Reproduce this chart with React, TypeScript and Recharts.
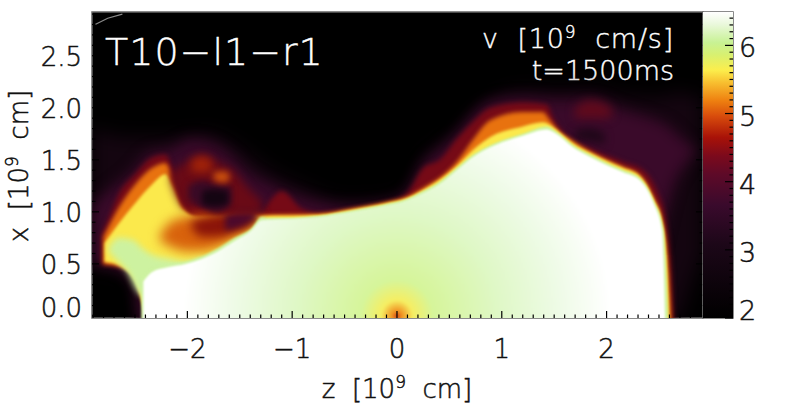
import { Area, Bar, ComposedChart, Line, XAxis, YAxis } from "recharts";

// contour bands of v, z and x in 10^9 cm
const farZ = [-2.91, -2.6, -2.5, -2.44, -2.2, -1.8, -1.5, -1.2, -0.9, -0.5, -0.1, 0.1, 0.25, 0.57, 0.89, 1.2, 1.52, 1.84, 2.16, 2.5, 2.7, 2.8, 2.91];
const farTop = [1.8, 1.72, 1.72, 1.72, 1.72, 1.76, 1.62, 1.4, 1.25, 1.1, 1.12, 1.2, 1.5, 1.75, 2.06, 2.17, 2.17, 2.18, 2.12, 2.1, 2.15, 2.12, 2.1];
const farLow = [0.46, 0.42, 0.3, -0.1, -0.1, -0.1, -0.1, -0.1, -0.1, -0.1, -0.1, -0.1, -0.1, -0.1, -0.1, -0.1, -0.1, -0.1, -0.1, -0.1, 0.0, 0.3, 0.6];

const plumZ = [-2.91, -2.82, -2.66, -2.5, -2.44, -2.34, -2.18, -1.96, -1.65, -1.39, -1.2, -0.91, -0.43, -0.11, 0.08, 0.25, 0.41, 0.57, 0.73, 0.89, 1.2, 1.52, 1.84, 2.16, 2.48, 2.6, 2.66, 2.73, 2.8, 2.86];
const plumTop = [1.05, 1.15, 1.28, 1.42, 1.5, 1.58, 1.6, 1.7, 1.6, 1.36, 1.26, 1.14, 1.05, 1.08, 1.16, 1.46, 1.6, 1.75, 1.94, 2.06, 2.1, 2.08, 2.09, 1.98, 1.88, 1.82, 1.76, 1.7, 1.64, 1.6];
const plumLow = [0.5, 0.5, 0.46, 0.3, -0.1, -0.1, -0.1, -0.1, -0.1, -0.1, -0.1, -0.1, -0.1, -0.1, -0.1, -0.1, -0.1, -0.1, -0.1, -0.1, -0.1, -0.1, -0.1, -0.1, 0.6, 1.1, 1.3, 1.42, 1.52, 1.58];

const redZ = [-2.82, -2.75, -2.66, -2.5, -2.34, -2.21, -2.12, -2.0, -1.3, -1.2, -1.1, -0.91, -0.75, -0.43, -0.11, 0.09, 0.25, 0.41, 0.57, 0.73, 0.89, 1.2, 1.43, 1.49, 1.59, 1.84, 2.16, 2.35, 2.48, 2.57, 2.62, 2.64];
const redTop = [0.78, 0.94, 1.16, 1.36, 1.52, 1.55, 1.36, 1.1, 0.99, 1.12, 1.2, 1.03, 0.99, 1.03, 1.09, 1.17, 1.42, 1.5, 1.7, 1.87, 2.0, 2.05, 2.03, 1.9, 1.76, 1.61, 1.48, 1.4, 1.2, 0.9, 0.42, 0.0];
const redLow = [0.49, 0.49, 0.47, 0.46, 0.27, -0.1, -0.1, -0.1, -0.1, -0.1, -0.1, -0.1, -0.1, -0.1, -0.1, -0.1, -0.1, -0.1, -0.1, -0.1, -0.1, -0.1, -0.1, -0.1, -0.1, -0.1, -0.1, -0.1, -0.1, -0.1, -0.1, -0.1];

const orangeZ = [-2.8, -2.66, -2.5, -2.34, -2.21, -2.13, -2.05, -1.95, -1.29, -0.75, -0.43, -0.11, 0.09, 0.25, 0.41, 0.57, 0.73, 0.89, 1.2, 1.39, 1.46, 1.52, 1.68, 1.84, 2.0, 2.16, 2.32, 2.45, 2.54, 2.59, 2.62];
const orangeTop = [0.76, 1.03, 1.26, 1.42, 1.47, 1.29, 1.07, 0.95, 0.97, 0.98, 1.03, 1.09, 1.14, 1.23, 1.33, 1.48, 1.7, 1.88, 1.96, 1.96, 1.88, 1.8, 1.68, 1.58, 1.5, 1.43, 1.35, 1.13, 0.87, 0.42, -0.1];
const orangeLow = [0.5, 0.48, 0.4, -0.1, -0.1, -0.1, -0.1, -0.1, -0.1, -0.1, -0.1, -0.1, -0.1, -0.1, -0.1, -0.1, -0.1, -0.1, -0.1, -0.1, -0.1, -0.1, -0.1, -0.1, -0.1, -0.1, -0.1, -0.1, -0.1, -0.1, -0.1];

const yellowZ = [-2.79, -2.66, -2.5, -2.34, -2.21, -2.14, -2.05, -1.9, -1.29, -0.75, -0.43, -0.11, 0.09, 0.25, 0.41, 0.57, 0.73, 0.89, 1.2, 1.39, 1.47, 1.52, 1.68, 1.84, 2.0, 2.16, 2.32, 2.45, 2.54, 2.58, 2.6];
const yellowTop = [0.7, 0.88, 1.08, 1.26, 1.36, 1.24, 1.03, 0.95, 0.96, 0.97, 1.02, 1.08, 1.13, 1.21, 1.31, 1.44, 1.6, 1.72, 1.82, 1.86, 1.83, 1.79, 1.66, 1.57, 1.49, 1.42, 1.34, 1.12, 0.86, 0.42, -0.1];
const yellowLow = [0.52, 0.49, 0.33, -0.1, -0.1, -0.1, -0.1, -0.1, -0.1, -0.1, -0.1, -0.1, -0.1, -0.1, -0.1, -0.1, -0.1, -0.1, -0.1, -0.1, -0.1, -0.1, -0.1, -0.1, -0.1, -0.1, -0.1, -0.1, -0.1, -0.1, -0.1];

// lobes sitting on top of the yellow region, left of the core
const lobeOrangeZ = [-2.26, -2.15, -2.02, -1.86, -1.71, -1.55, -1.39, -1.31];
const lobeOrangeTop = [0.78, 0.91, 0.95, 0.97, 0.98, 0.96, 0.96, 0.97];
const lobeOrangeLow = [0.72, 0.66, 0.62, 0.62, 0.66, 0.74, 0.84, 0.93];

const lobeRedZ = [-1.96, -1.86, -1.71, -1.55, -1.39, -1.32];
const lobeRedTop = [0.91, 0.94, 0.97, 0.98, 0.98, 0.97];
const lobeRedLow = [0.85, 0.76, 0.76, 0.81, 0.87, 0.93];

const lobePlumZ = [-1.64, -1.48, -1.35];
const lobePlumTop = [0.97, 1.0, 1.0];
const lobePlumLow = [0.82, 0.86, 0.93];

const cloudZ = [-2.16, -2.1, -2.02, -1.86, -1.71, -1.55, -1.45, -1.29];
const cloudTop = [1.36, 1.42, 1.47, 1.55, 1.48, 1.39, 1.26, 1.1];
const cloudLow = [1.3, 1.14, 1.03, 1.1, 0.99, 0.99, 0.99, 1.0];

const ringZ = [-1.99, -1.86, -1.71, -1.58];
const ringTop = [1.25, 1.3, 1.26, 1.25];
const ringLow = [1.12, 1.05, 1.0, 1.08];

const holeZ = [-1.86, -1.75, -1.61];
const holeTop = [1.2, 1.22, 1.2];
const holeLow = [1.07, 1.05, 1.07];

const spotRedZ = [-1.96, -1.86, -1.77];
const spotRedTop = [1.5, 1.53, 1.5];
const spotRedLow = [1.38, 1.38, 1.38];

const spotOrangeZ = [-1.75, -1.65, -1.6];
const spotOrangeTop = [1.38, 1.39, 1.37];
const spotOrangeLow = [1.3, 1.28, 1.3];

const wingRedZ = [1.7, 1.84, 2.0, 2.05];
const wingRedTop = [2.0, 2.07, 2.03, 1.98];
const wingRedLow = [1.9, 1.9, 1.9, 1.92];

const wingDarkZ = [1.7, 1.84, 1.98];
const wingDarkTop = [1.78, 1.8, 1.75];
const wingDarkLow = [1.7, 1.68, 1.65];

// pale green patch left of the core, softer edged than the rim itself
const leftGreenZ = [-2.75, -2.66, -2.56, -2.5, -2.44, -2.34, -2.18, -2.02, -1.85];
const leftGreenTop = [0.65, 0.75, 0.74, 0.72, 0.66, 0.59, 0.55, 0.52, 0.57];
const leftGreenLow = [0.62, 0.52, 0.4, 0.27, 0.2, 0.2, 0.2, 0.2, 0.2];

const rimZ = [-2.44, -2.34, -2.18, -2.02, -1.71, -1.55, -1.39, -1.29, -1.23, -1.07, -0.75, -0.43, -0.11, 0.09, 0.25, 0.41, 0.57, 0.73, 0.89, 1.2, 1.43, 1.52, 1.68, 1.84, 2.0, 2.16, 2.32, 2.45, 2.54, 2.57, 2.59];
const rimTop = [0.36, 0.45, 0.5, 0.52, 0.65, 0.75, 0.84, 0.95, 0.94, 0.94, 0.96, 1.01, 1.07, 1.12, 1.2, 1.29, 1.42, 1.55, 1.64, 1.75, 1.82, 1.77, 1.64, 1.55, 1.47, 1.4, 1.32, 1.1, 0.84, 0.42, -0.1];
const rimLow = rimZ.map(() => -0.1);

const coreZ = [-2.42, -2.34, -2.18, -2.02, -1.71, -1.55, -1.39, -1.29, -1.07, -0.75, -0.43, -0.11, 0.09, 0.25, 0.41, 0.57, 0.73, 0.89, 1.2, 1.43, 1.52, 1.68, 1.84, 2.0, 2.16, 2.32, 2.45, 2.53, 2.56];
const coreTop = [0.33, 0.42, 0.47, 0.5, 0.62, 0.72, 0.82, 0.92, 0.93, 0.95, 1.0, 1.06, 1.11, 1.18, 1.27, 1.4, 1.53, 1.62, 1.73, 1.79, 1.75, 1.62, 1.53, 1.45, 1.38, 1.3, 1.08, 0.82, -0.1];
const coreLow = coreZ.map(() => -0.1);

const smudgeZ = [-2.88, -2.76, -2.62];
const smudgeX = [2.8, 2.86, 2.9];

const zMajor = [-2, -1, 0, 1, 2];
const xMajor = [0, 0.5, 1, 1.5, 2, 2.5];
const barMajor = [2, 3, 4, 5, 6];
const barRange = [2, 6.49];

// minor marks every 0.1, the major ones get looked up for their labels
const zTicks = Array.from({ length: 58 }, (_, i) => (i - 29) / 10);
const xTicks = Array.from({ length: 30 }, (_, i) => i / 10);
const barTicks = Array.from({ length: 45 }, (_, i) => 2 + i / 10);

const band = (zs: number[], top: number[], low: number[]) =>
  zs.map((z, i) => ({ z, band: [low[i], top[i]] }));

const sameTick = (a: number, b: number) => Math.abs(a - b) < 0.001;
const minus = (n: number) => (n < 0 ? "\u2212" + Math.abs(n) : String(n));

const INK = "#111";
// extra light face with a hairline stroke comes nearest to the plot's thin lettering
const darkText = { fontFamily: "'DejaVu Sans', sans-serif", fontWeight: 300, fill: INK, stroke: INK, strokeWidth: 0.5 };
const whiteText = { fontFamily: "'DejaVu Sans', sans-serif", fontWeight: 300, fill: "#fff", stroke: "#fff", strokeWidth: 0.4 };

function ZTick({ x, payload }: any) {
  const major = zMajor.some((t) => sameTick(t, payload.value));
  return (
    <g>
      <line x1={x} x2={x} y1={318} y2={major ? 311 : 314.5} stroke="#000" strokeWidth={1.2} />
      {major && (
        <text x={x} y={358} textAnchor="middle" fontSize={26} {...darkText}>
          {minus(Math.round(payload.value))}
        </text>
      )}
    </g>
  );
}

function XTick({ y, payload }: any) {
  const major = xMajor.some((t) => sameTick(t, payload.value));
  // the bottom label sits higher than its tick, as in the original plot
  const labelY = payload.value === 0 ? y - 8 : y + 1;
  return (
    <g>
      <line x1={92} x2={major ? 99 : 95.5} y1={y} y2={y} stroke="#000" strokeWidth={1.2} />
      <line x1={703} x2={major ? 696 : 699.5} y1={y} y2={y} stroke="#000" strokeWidth={1.2} />
      {major && (
        <text x={82} y={labelY + 9} textAnchor="end" fontSize={26} {...darkText}>
          {payload.value.toFixed(1)}
        </text>
      )}
    </g>
  );
}

function BarTick({ y, payload }: any) {
  const major = barMajor.some((t) => sameTick(t, payload.value));
  const labelY = sameTick(payload.value, 2) ? y - 8 : y + 2;
  return (
    <g>
      <line x1={733} x2={major ? 725 : 729.5} y1={y} y2={y} stroke="#000" strokeWidth={1.2} />
      {major && (
        <text x={739} y={labelY + 10} fontSize={27} {...darkText}>
          {Math.round(payload.value)}
        </text>
      )}
    </g>
  );
}

const soft = (px: number) => ({ filter: `blur(${px}px)` });

function layer(name: string, data: any[], fill: string, blur: number) {
  return (
    <Area
      key={name}
      name={name}
      data={data}
      dataKey="band"
      type="monotone"
      fill={fill}
      fillOpacity={1}
      stroke="none"
      dot={false}
      activeDot={false}
      style={soft(blur)}
      isAnimationActive={false}
    />
  );
}

export default function App() {
  return (
    <div style={{ position: "absolute", left: 0, top: 0, width: 789, height: 411, background: "#fff" }}>
      <div style={{ position: "absolute", left: 0, top: 0 }}>
        <ComposedChart width={789} height={411} margin={{ top: 12, right: 86, bottom: 92, left: 91 }}>
          <defs>
            <radialGradient id="coreFill" gradientUnits="userSpaceOnUse" cx={397} cy={316} r={225}>
              <stop offset="0%" stopColor="#d0401a" />
              <stop offset="2%" stopColor="#f09020" />
              <stop offset="7%" stopColor="#f6ee62" />
              <stop offset="16%" stopColor="#d6f59a" />
              <stop offset="45%" stopColor="#dff8c6" />
              <stop offset="72%" stopColor="#eefbe6" />
              <stop offset="95%" stopColor="#ffffff" />
            </radialGradient>
          </defs>
          <rect x={92} y={12} width={611} height={306} fill="#000" />
          <XAxis
            dataKey="z"
            type="number"
            domain={[-2.91, 2.92]}
            allowDataOverflow
            ticks={zTicks}
            interval={0}
            height={1}
            tick={<ZTick />}
            tickLine={false}
            axisLine={false}
          />
          <YAxis
            type="number"
            domain={[-0.02, 2.92]}
            allowDataOverflow
            ticks={xTicks}
            interval={0}
            width={1}
            tick={<XTick />}
            tickLine={false}
            axisLine={false}
          />
          {layer("far", band(farZ, farTop, farLow), "#140510", 9)}
          {layer("plum", band(plumZ, plumTop, plumLow), "#3a0a2a", 7)}
          {layer("wingRed", band(wingRedZ, wingRedTop, wingRedLow), "#600a1c", 5)}
          {layer("wingDark", band(wingDarkZ, wingDarkTop, wingDarkLow), "#1e0718", 4)}
          {layer("red", band(redZ, redTop, redLow), "#760a16", 2.5)}
          {layer("orange", band(orangeZ, orangeTop, orangeLow), "#e8720f", 2)}
          {layer("yellow", band(yellowZ, yellowTop, yellowLow), "#fbe94c", 1.5)}
          {layer("lobeOrange", band(lobeOrangeZ, lobeOrangeTop, lobeOrangeLow), "#d8620c", 6)}
          {layer("lobeRed", band(lobeRedZ, lobeRedTop, lobeRedLow), "#8a1409", 5)}
          {layer("lobePlum", band(lobePlumZ, lobePlumTop, lobePlumLow), "#4c0a2c", 3)}
          {layer("cloud", band(cloudZ, cloudTop, cloudLow), "#6a0a16", 4)}
          {layer("ring", band(ringZ, ringTop, ringLow), "#3a0a26", 3)}
          {layer("hole", band(holeZ, holeTop, holeLow), "#140512", 3)}
          {layer("spotRed", band(spotRedZ, spotRedTop, spotRedLow), "#a02209", 4)}
          {layer("spotOrange", band(spotOrangeZ, spotOrangeTop, spotOrangeLow), "#c84e0d", 3)}
          {layer("leftGreen", band(leftGreenZ, leftGreenTop, leftGreenLow), "#cdf2a0", 3)}
          {layer("rim", band(rimZ, rimTop, rimLow), "#cdf2a0", 0.8)}
          {layer("core", band(coreZ, coreTop, coreLow), "url(#coreFill)", 1.2)}
          <Line
            data={smudgeZ.map((z, i) => ({ z, smudge: smudgeX[i] }))}
            dataKey="smudge"
            stroke="#8a8a8a"
            strokeWidth={1.2}
            dot={false}
            activeDot={false}
            isAnimationActive={false}
          />
          <text x={105} y={65} fontSize={38} letterSpacing={1} {...whiteText}>
            T10{"\u2212"}l1{"\u2212"}r1
          </text>
          <text x={674} y={48} textAnchor="end" fontSize={27} xmlSpace="preserve" letterSpacing={0.8} {...whiteText}>
            v  [10<tspan dy={-10} fontSize={17}>9</tspan><tspan dy={10}>  cm/s]</tspan>
          </text>
          <text x={674} y={80} textAnchor="end" fontSize={27} {...whiteText}>
            t=1500ms
          </text>
          <text x={397} y={398} textAnchor="middle" fontSize={26} xmlSpace="preserve" {...darkText}>
            z  [10<tspan dy={-10} fontSize={17}>9</tspan><tspan dy={10}>  cm]</tspan>
          </text>
          <text x={28} y={166} transform="rotate(-90 28 166)" textAnchor="middle" fontSize={26} xmlSpace="preserve" {...darkText}>
            x  [10<tspan dy={-10} fontSize={17}>9</tspan><tspan dy={10}>  cm]</tspan>
          </text>
          <rect x={92} y={12} width={611} height={306} fill="none" stroke="#666" strokeWidth={1.5} />
        </ComposedChart>
      </div>
      <div style={{ position: "absolute", left: 0, top: 0 }}>
        <ComposedChart
          width={789}
          height={411}
          data={[{ name: "v", range: barRange }]}
          barCategoryGap={0}
          margin={{ top: 12, right: 55, bottom: 93, left: 703 }}
        >
          <defs>
            <linearGradient id="barFill" x1="0" y1="0" x2="0" y2="1">
              <stop offset="0%" stopColor="#ffffff" />
              <stop offset="4%" stopColor="#eaf8dc" />
              <stop offset="10%" stopColor="#c8f294" />
              <stop offset="14%" stopColor="#d8f070" />
              <stop offset="19%" stopColor="#fcee4c" />
              <stop offset="23%" stopColor="#f8c030" />
              <stop offset="29%" stopColor="#ee8010" />
              <stop offset="34%" stopColor="#d84c0c" />
              <stop offset="41%" stopColor="#a81208" />
              <stop offset="47%" stopColor="#7c0a1c" />
              <stop offset="53%" stopColor="#5e0a28" />
              <stop offset="63%" stopColor="#3a0a2c" />
              <stop offset="76%" stopColor="#1c0718" />
              <stop offset="100%" stopColor="#000000" />
            </linearGradient>
          </defs>
          <XAxis dataKey="name" type="category" hide padding={{ left: 0, right: 0 }} />
          <YAxis
            orientation="right"
            type="number"
            domain={barRange}
            allowDataOverflow
            ticks={barTicks}
            interval={0}
            width={1}
            tick={<BarTick />}
            tickLine={false}
            axisLine={false}
          />
          <Bar dataKey="range" fill="url(#barFill)" isAnimationActive={false} />
          <rect x={703} y={12} width={30} height={306} fill="none" stroke="#666" strokeWidth={1.5} />
        </ComposedChart>
      </div>
    </div>
  );
}
